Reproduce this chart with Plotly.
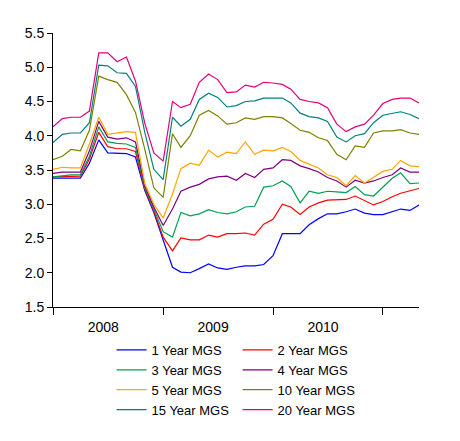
import pandas as pd
import plotly.graph_objects as go

months = pd.date_range("2008-01-01", periods=41, freq="MS")

y1 = [3.38, 3.38, 3.38, 3.38, 3.60, 3.94, 3.75, 3.74, 3.74, 3.69, 3.20, 2.88, 2.48, 2.08, 2.01, 2.00, 2.06, 2.13, 2.07, 2.05,
      2.08, 2.10, 2.10, 2.12, 2.25, 2.57, 2.57, 2.57, 2.70, 2.79, 2.86, 2.86, 2.89, 2.93, 2.87, 2.85, 2.85, 2.89, 2.93, 2.91, 2.99]
y2 = [3.40, 3.40, 3.41, 3.41, 3.66, 4.05, 3.84, 3.81, 3.81, 3.77, 3.22, 2.90, 2.52, 2.32, 2.51, 2.48, 2.48, 2.55, 2.52, 2.57,
      2.57, 2.58, 2.55, 2.71, 2.78, 3.00, 2.96, 2.85, 2.96, 3.02, 3.06, 3.07, 3.07, 3.12, 3.05, 2.99, 3.04, 3.11, 3.16, 3.19, 3.23]
y3 = [3.40, 3.42, 3.43, 3.43, 3.70, 4.13, 3.91, 3.89, 3.88, 3.83, 3.24, 2.93, 2.60, 2.52, 2.88, 2.83, 2.86, 2.92, 2.88, 2.86,
      2.89, 2.96, 2.97, 3.25, 3.27, 3.34, 3.26, 3.02, 3.19, 3.16, 3.19, 3.18, 3.17, 3.26, 3.14, 3.12, 3.25, 3.38, 3.46, 3.30, 3.31]
y4 = [3.45, 3.47, 3.47, 3.47, 3.78, 4.21, 3.98, 3.95, 3.97, 3.91, 3.27, 2.96, 2.69, 2.93, 3.19, 3.25, 3.29, 3.37, 3.40, 3.41,
      3.35, 3.45, 3.39, 3.51, 3.53, 3.65, 3.64, 3.56, 3.52, 3.47, 3.39, 3.34, 3.25, 3.35, 3.31, 3.34, 3.39, 3.43, 3.53, 3.47, 3.47]
y5 = [3.51, 3.54, 3.53, 3.53, 3.88, 4.27, 4.02, 4.04, 4.06, 4.05, 3.30, 3.00, 2.80, 3.15, 3.52, 3.60, 3.57, 3.79, 3.69, 3.76,
      3.74, 3.91, 3.73, 3.79, 3.78, 3.83, 3.77, 3.64, 3.59, 3.53, 3.43, 3.39, 3.27, 3.42, 3.31, 3.39, 3.48, 3.51, 3.64, 3.56, 3.55]
y10 = [3.65, 3.70, 3.80, 3.78, 4.08, 4.87, 4.82, 4.78, 4.60, 4.34, 3.80, 3.24, 3.10, 4.03, 3.83, 4.00, 4.30, 4.37, 4.29, 4.17,
       4.19, 4.26, 4.24, 4.28, 4.28, 4.26, 4.18, 4.08, 4.05, 3.97, 3.93, 3.73, 3.65, 3.85, 3.83, 4.04, 4.07, 4.07, 4.09, 4.04, 4.02]
y15 = [3.90, 4.02, 4.04, 4.04, 4.19, 5.03, 5.02, 4.92, 4.91, 4.72, 4.05, 3.51, 3.36, 4.27, 4.14, 4.24, 4.53, 4.62, 4.56, 4.42,
       4.44, 4.50, 4.51, 4.55, 4.55, 4.55, 4.48, 4.33, 4.28, 4.26, 4.21, 3.98, 3.91, 4.00, 4.03, 4.19, 4.30, 4.33, 4.35, 4.31, 4.25]
y20 = [4.13, 4.25, 4.27, 4.27, 4.36, 5.21, 5.21, 5.08, 5.15, 4.80, 4.18, 3.75, 3.63, 4.50, 4.41, 4.46, 4.78, 4.90, 4.82, 4.63,
       4.64, 4.74, 4.71, 4.78, 4.77, 4.75, 4.68, 4.53, 4.50, 4.48, 4.41, 4.17, 4.06, 4.13, 4.17, 4.30, 4.47, 4.53, 4.55, 4.55, 4.48]

series_names = ["1 Year MGS", "2 Year MGS", "3 Year MGS", "4 Year MGS",
                "5 Year MGS", "10 Year MGS", "15 Year MGS", "20 Year MGS"]
series_values = [y1, y2, y3, y4, y5, y10, y15, y20]
series_colors = ["#0000FF", "#FF0000", "#00A050", "#800080",
                 "#FFA500", "#808000", "#008080", "#E2007A"]

year_label_dates = ["2008-06-16", "2009-06-16", "2010-06-16"]
year_labels = ["2008", "2009", "2010"]
year_boundaries = ["2008-01-01", "2009-01-01", "2010-01-01", "2011-01-01"]

fig = go.Figure()
for name, vals, col in zip(series_names, series_values, series_colors):
    fig.add_trace(go.Scatter(x=months, y=vals, mode="lines", name=name,
                             line=dict(color=col, width=1.2)))

font_family = "Liberation Sans, Arial, sans-serif"
fig.update_layout(
    width=460, height=441,
    margin=dict(l=53, r=41, t=33, b=134, autoexpand=False),
    paper_bgcolor="white", plot_bgcolor="white",
    font=dict(family=font_family, size=14, color="black"),
    showlegend=True,
    legend=dict(orientation="h", x=0.160, xanchor="left", y=-0.102, yanchor="top",
                entrywidth=81, entrywidthmode="pixels",
                font=dict(family=font_family, size=13, color="black"),
                bgcolor="rgba(0,0,0,0)", borderwidth=0),
    xaxis=dict(range=[months[0], months[-1]], showgrid=False, zeroline=False,
               showline=True, linecolor="black", linewidth=1,
               tickmode="array", tickvals=year_label_dates, ticktext=year_labels,
               ticks="outside", ticklen=7, tickcolor="rgba(0,0,0,0)",
               tickfont=dict(size=14, color="black"),
               minor=dict(tickmode="array", tickvals=year_boundaries, ticks="outside",
                          ticklen=7, tickcolor="black", tickwidth=1, showgrid=False)),
    yaxis=dict(range=[1.5, 5.5], dtick=0.5, tick0=1.5, tickformat=".1f",
               showgrid=False, zeroline=False, showline=True, linecolor="black",
               linewidth=1, ticks="outside", ticklen=5, tickcolor="black",
               tickfont=dict(size=14, color="black")),
)

fig.write_html("out.html")
